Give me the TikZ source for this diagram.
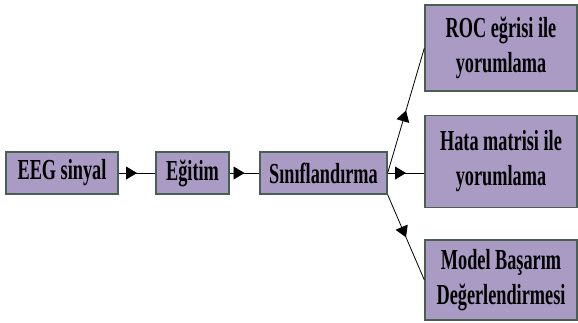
\documentclass[tikz,border=0pt]{standalone}
\usepackage{fontspec}
\setmainfont{Liberation Serif}[FakeStretch=0.63]
\usetikzlibrary{arrows.meta,decorations.markings}
\definecolor{boxfill}{RGB}{169,155,196}
\definecolor{boxline}{RGB}{72,96,82}
\tikzset{
  stepbox/.style={draw=boxline, line width=1.3pt, fill=boxfill, inner sep=0pt,
    font=\fontsize{29}{35}\selectfont\bfseries, align=center},
  midarrow/.style={draw=black, line width=0.8pt, postaction={decorate},
    decoration={markings, mark=at position 0.5 with {\arrow{Triangle[length=11pt,width=13pt]}}}}
}
\begin{document}
\begin{tikzpicture}[x=1pt,y=-1pt]
\useasboundingbox (0,0) rectangle (578,322);
\node[stepbox, minimum width=112pt, minimum height=42pt] (eeg) at (62,173) {EEG sinyal};
\node[stepbox, minimum width=73pt, minimum height=42pt] (egt) at (192.5,173) {Eğitim};
\node[stepbox, minimum width=127pt, minimum height=42pt] (sin) at (323.5,173) {Sınıflandırma};
\node[stepbox, minimum width=152pt, minimum height=86pt] (roc) at (501,48) {ROC eğrisi ile\\yorumlama};
\node[stepbox, minimum width=152pt, minimum height=92pt] (hata) at (501,161.5) {Hata matrisi ile\\yorumlama};
\node[stepbox, minimum width=152pt, minimum height=80pt] (model) at (501,280) {Model Başarım\\Değerlendirmesi};
\path[midarrow] (eeg.east) -- (egt.west);
\path[midarrow] (egt.east) -- (sin.west);
\path[midarrow] (sin.east) -- (roc.west);
\path[midarrow] (sin.east) -- (sin.east -| hata.west);
\path[midarrow] (sin.south east) -- (model.west);
\end{tikzpicture}
\end{document}
